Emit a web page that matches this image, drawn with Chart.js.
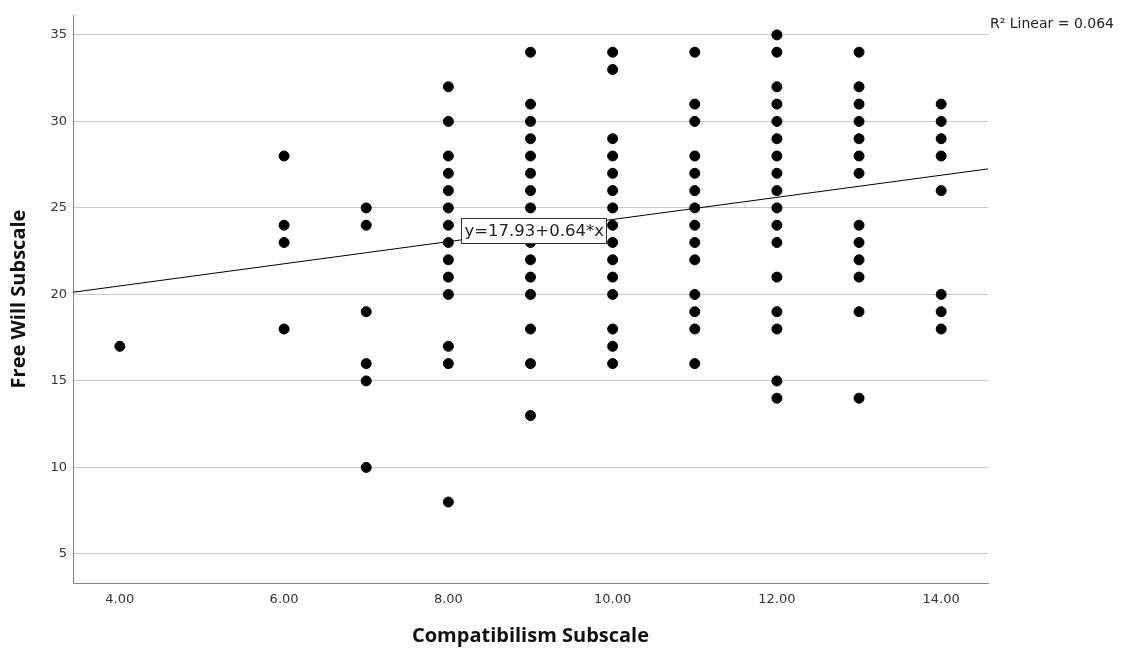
<!DOCTYPE html>
<html>
<head>
<meta charset="utf-8">
<script src="https://cdn.jsdelivr.net/npm/chart.js@4"></script>
<style>
  html, body { margin: 0; padding: 0; background: #fff; }
  #wrap { width: 1122px; height: 655px; position: relative; }
</style>
</head>
<body>
<div id="wrap"><canvas id="graficoDispersao"></canvas></div>
<script>
/* dados - uma lista de valores de Free Will por cada valor de Compatibilism */
const compatValores = [4, 6, 7, 8, 9, 10, 11, 12, 13, 14];
const freeWillPorCompat = [
    [17],
    [28, 24, 23, 18],
    [25, 24, 19, 16, 15, 10],
    [32, 30, 28, 27, 26, 25, 24, 23, 22, 21, 20, 17, 16, 8],
    [34, 31, 30, 29, 28, 27, 26, 25, 24, 23, 22, 21, 20, 18, 16, 13],
    [34, 33, 29, 28, 27, 26, 25, 24, 23, 22, 21, 20, 18, 17, 16],
    [34, 31, 30, 28, 27, 26, 25, 24, 23, 22, 20, 19, 18, 16],
    [35, 34, 32, 31, 30, 29, 28, 27, 26, 25, 24, 23, 21, 19, 18, 15, 14],
    [34, 32, 31, 30, 29, 28, 27, 24, 23, 22, 21, 19, 14],
    [31, 30, 29, 28, 26, 20, 19, 18]
];
const xTicks = [4, 6, 8, 10, 12, 14];
const yTicks = [5, 10, 15, 20, 25, 30, 35];
const intercepto = 17.93;
const inclinacao = 0.64;
const rQuadrado = 0.064;

const xMin = 3.43, xMax = 14.57;
const yMin = 3.32, yMax = 36.15;

const pontos = [];
compatValores.forEach((cx, i) => {
    freeWillPorCompat[i].forEach(v => pontos.push({ x: cx, y: v }));
});

const linhaReg = [
    { x: xMin, y: intercepto + inclinacao * xMin },
    { x: xMax, y: intercepto + inclinacao * xMax }
];

/* rótulos extra: equação e R2 */
const rotulosPlugin = {
    id: 'rotulos',
    afterDatasetsDraw(chart) {
        const ctx = chart.ctx;
        const xs = chart.scales.x, ys = chart.scales.y;
        ctx.save();
        // caixa da equação
        const txt = 'y=' + intercepto.toFixed(2) + '+' + inclinacao.toFixed(2) + '*x';
        ctx.font = '16.5px "DejaVu Sans"';
        const w = Math.round(ctx.measureText(txt).width + 6);
        const h = 25;
        const bx = Math.round(xs.getPixelForValue(8.15)) + 0.5;
        const by = Math.round(ys.getPixelForValue(23.72) - h / 2) + 0.5;
        ctx.fillStyle = '#fff';
        ctx.fillRect(bx, by, w, h);
        ctx.strokeStyle = '#333';
        ctx.lineWidth = 1;
        ctx.strokeRect(bx, by, w, h);
        ctx.fillStyle = '#222';
        ctx.textBaseline = 'middle';
        ctx.textAlign = 'left';
        ctx.fillText(txt, bx + 3, by + h / 2 + 1);
        // R2 no canto
        ctx.font = '14px "DejaVu Sans"';
        ctx.fillStyle = '#222';
        ctx.textBaseline = 'alphabetic';
        ctx.fillText('R² Linear = ' + rQuadrado.toFixed(3), 990, 28);
        ctx.restore();
    }
};

const graficoDispersao = document.getElementById('graficoDispersao');

new Chart(graficoDispersao, {
    type: 'scatter',
    data: {
        datasets: [{
            label: 'Free Will',
            data: pontos,
            backgroundColor: '#000',
            borderColor: '#000',
            pointRadius: 5,
            pointHoverRadius: 5
        }, {
            type: 'line',
            label: 'Linear',
            data: linhaReg,
            borderColor: '#000',
            borderWidth: 1,
            pointRadius: 0,
            fill: false
        }]
    },
    options: {
        responsive: true,
        maintainAspectRatio: false,
        animation: false,
        layout: {
            padding: { top: 15, right: 134, bottom: 0, left: 0 }
        },
        scales: {
            x: {
                type: 'linear',
                min: xMin,
                max: xMax,
                afterBuildTicks: (s) => { s.ticks = xTicks.map(v => ({ value: v })); },
                afterFit: (s) => { s.height = 72; s.paddingLeft = 0; s.paddingRight = 0; },
                grid: { display: false, drawTicks: false },
                border: { color: '#888', width: 1 },
                ticks: {
                    padding: 9,
                    color: '#333',
                    font: { family: 'DejaVu Sans', size: 13 },
                    callback: (v) => Number(v).toFixed(2)
                },
                title: {
                    display: true,
                    text: 'Compatibilism Subscale',
                    color: '#111',
                    font: { family: 'Open Sans', size: 20, weight: 'bold' },
                    padding: { top: 0, bottom: 7 }
                }
            },
            y: {
                min: yMin,
                max: yMax,
                afterBuildTicks: (s) => { s.ticks = yTicks.map(v => ({ value: v })); },
                afterFit: (s) => { s.width = 73; s.paddingTop = 0; s.paddingBottom = 0; },
                grid: { color: '#c8c8c8', drawTicks: false },
                border: { color: '#888', width: 1 },
                ticks: {
                    padding: 6,
                    color: '#333',
                    font: { family: 'DejaVu Sans', size: 13 }
                },
                title: {
                    display: true,
                    text: 'Free Will Subscale',
                    color: '#111',
                    font: { family: 'Open Sans', size: 20, weight: 'bold' },
                    padding: { top: 7, bottom: 0 }
                }
            }
        },
        plugins: {
            legend: { display: false },
            tooltip: { enabled: false }
        }
    },
    plugins: [rotulosPlugin]
});
</script>
</body>
</html>
